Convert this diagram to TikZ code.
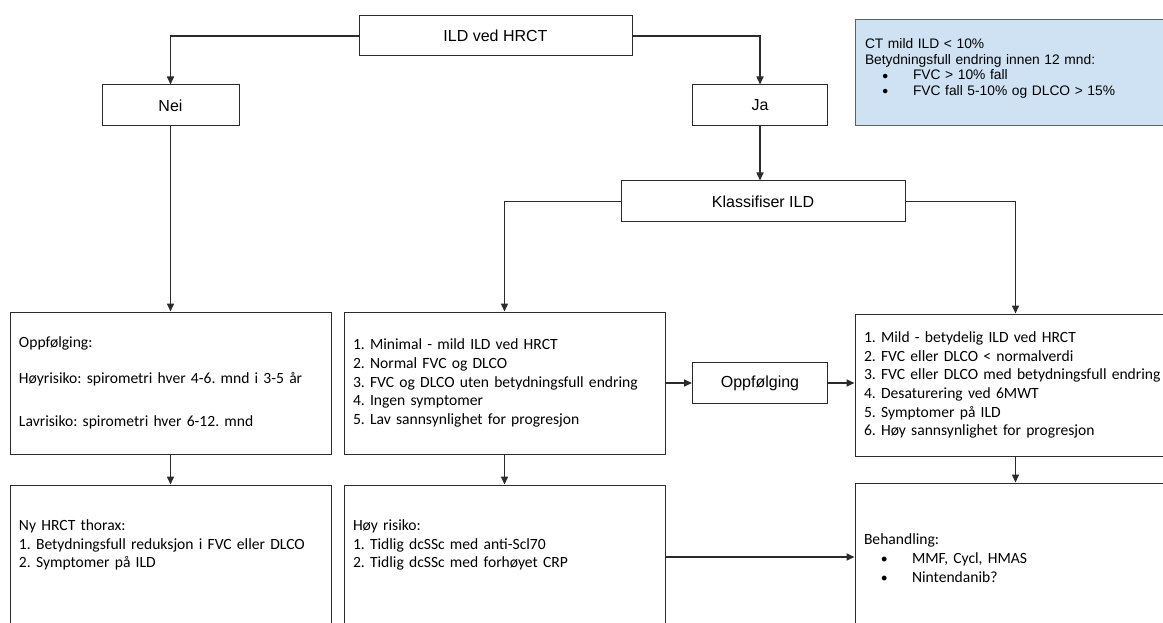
\documentclass[tikz,border=0pt]{standalone}
\usepackage{fontspec}
\setmainfont{Carlito}
\newfontfamily\arialf{Liberation Sans}
\usetikzlibrary{positioning,calc,arrows.meta}
\definecolor{IldLine}{HTML}{2B2B2B}
\definecolor{IldNote}{HTML}{CFE2F3}
\tikzset{
  flowbox/.style={draw=IldLine, line width=1pt, fill=white, inner sep=0pt,
    font=\arialf\fontsize{16}{18}\selectfont},
  listbox/.style={draw=IldLine, line width=1pt, fill=white, inner ysep=0pt,
    inner xsep=9pt, text width=303pt, minimum height=142pt, align=left,
    font=\fontsize{15.6}{18.7}\selectfont},
  lowbox/.style={listbox, minimum height=150pt},
  notebox/.style={draw=IldLine!75, line width=1pt, fill=IldNote, inner ysep=0pt,
    inner xsep=10pt, text width=301pt, align=left,
    font=\arialf\fontsize{13.8}{15.5}\selectfont},
  flowarrow/.style={draw=IldLine, line width=1.6pt, -{Triangle[length=8pt,width=7pt]}}
}
\newcommand{\ildbullet}[1]{\hspace*{17pt}\makebox[31pt][l]{\raisebox{0.5pt}{\fontsize{10.5}{10}\selectfont ●}}#1}
\begin{document}
\frenchspacing
\begin{tikzpicture}[x=1pt,y=-1pt]
  \useasboundingbox (0,0) rectangle (1163,623);
  \node[flowbox, minimum width=273pt, minimum height=40pt] (ild) at (495.5,36) {ILD ved HRCT};
  \node[flowbox, minimum width=137pt, minimum height=41pt] (nei) at (170.5,105.5) {Nei};
  \node[flowbox, minimum width=135pt, minimum height=41pt] (ja) at (760,105.5) {Ja};
  \node[notebox, minimum height=106pt] (note) at (1015.5,73)
    {CT mild ILD < 10\%\\
     Betydningsfull endring innen 12 mnd:\\
     \ildbullet{FVC > 10\% fall}\\
     \ildbullet{FVC fall 5-10\% og DLCO > 15\%}\\[-4pt]\mbox{}};
  \node[flowbox, minimum width=284pt, minimum height=41pt] (klass) at (763,201.5) {Klassifiser ILD};
  \node[listbox] (folgeopp) at (170.5,383)
    {Oppfølging:\\[17pt]
     Høyrisiko: spirometri hver 4-6. mnd i 3-5 år\\[24pt]
     Lavrisiko: spirometri hver 6-12. mnd};
  \node[listbox] (mild) at (504.5,383)
    {1. Minimal - mild ILD ved HRCT\\
     2. Normal FVC og DLCO\\
     3. FVC og DLCO uten betydningsfull endring\\
     4. Ingen symptomer\\
     5. Lav sannsynlighet for progresjon};
  \node[listbox] (betydelig) at (1015.5,385)
    {1. Mild - betydelig ILD ved HRCT\\
     2. FVC eller DLCO < normalverdi\\
     \mbox{3. FVC eller DLCO med betydningsfull endring}\\
     4. Desaturering ved 6MWT\\
     5. Symptomer på ILD\\
     6. Høy sannsynlighet for progresjon};
  \node[flowbox, minimum width=135pt, minimum height=41pt] (oppf) at (760,383) {Oppfølging};
  \node[lowbox] (nyct) at (170.5,560)
    {Ny HRCT thorax:\\
     1. Betydningsfull reduksjon i FVC eller DLCO\\
     2. Symptomer på ILD\\[14pt]\mbox{}};
  \node[lowbox] (hoyrisiko) at (504.5,560)
    {Høy risiko:\\
     1. Tidlig dcSSc med anti-Scl70\\
     2. Tidlig dcSSc med forhøyet CRP\\[14pt]\mbox{}};
  \node[lowbox] (behandling) at (1015.5,558)
    {Behandling:\\
     \ildbullet{MMF, Cycl, HMAS}\\
     \ildbullet{Nintendanib?}};
  \draw[flowarrow] (ild.west) -| (nei.north);
  \draw[flowarrow] (ild.east) -| (ja.north);
  \draw[flowarrow] (ja.south) -- (ja.south |- klass.north);
  \draw[flowarrow] (klass.west) -| (mild.north);
  \draw[flowarrow] (klass.east) -| (betydelig.north);
  \draw[flowarrow] (nei.south) -- (folgeopp.north);
  \draw[flowarrow] (mild.east) -- (oppf.west);
  \draw[flowarrow] (oppf.east) -- (betydelig.west |- oppf.east);
  \draw[flowarrow] (folgeopp.south) -- (nyct.north);
  \draw[flowarrow] (mild.south) -- (hoyrisiko.north);
  \draw[flowarrow] (betydelig.south) -- (behandling.north);
  \draw[flowarrow] ([yshift=3pt]hoyrisiko.east) -- ([yshift=3pt]hoyrisiko.east -| behandling.west);
\end{tikzpicture}
\end{document}
